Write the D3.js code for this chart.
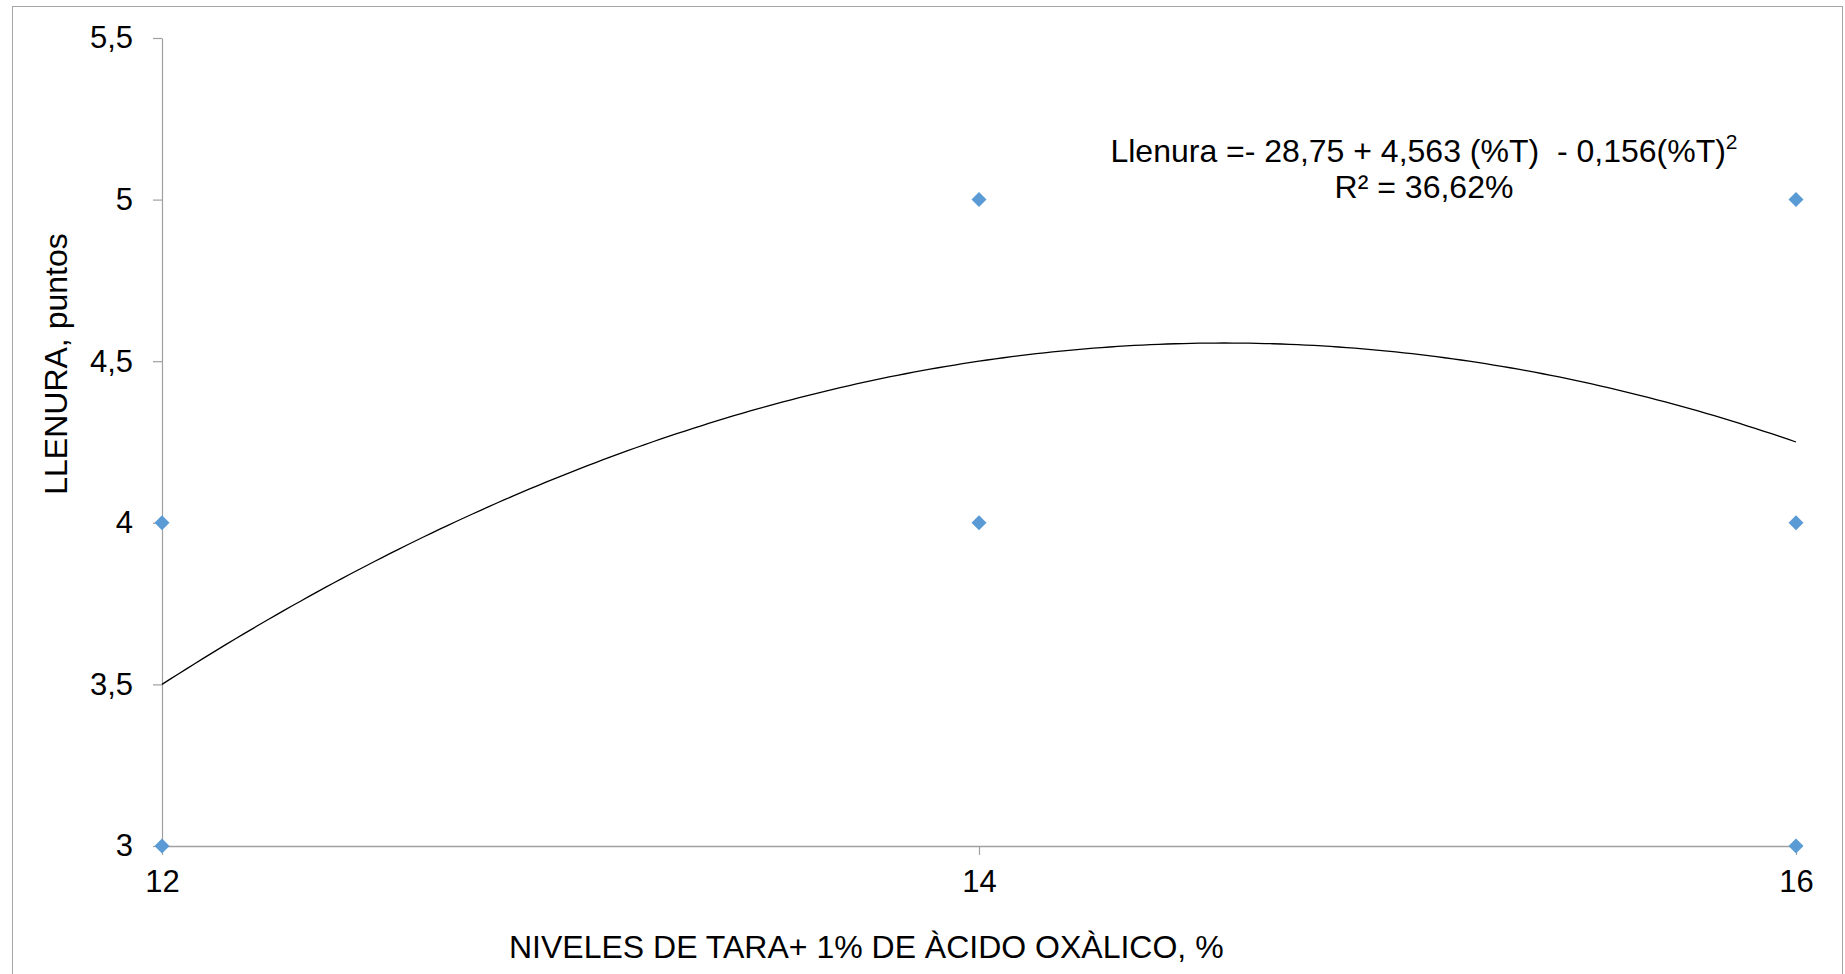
<!DOCTYPE html>
<html>
<head>
<meta charset="utf-8">
<script src="https://cdn.jsdelivr.net/npm/d3@7"></script>
<style>
  html, body { margin: 0; padding: 0; background: #fff; }
  svg { display: block; font-family: "Liberation Sans", Arial, sans-serif; }
  text { white-space: pre; }
</style>
</head>
<body>
<svg id="chart" width="1845" height="974"></svg>
<script>
// Observations: tara level (%) and fullness score (points)
const taraLevels = [12, 12, 14, 14, 16, 16, 16];
const llenuraScores = [3, 4, 4, 5, 3, 4, 5];

// Quadratic trend: Llenura = c0 + c1*T + c2*T^2
const trendCoefficients = [-28.75, 4.5625, -0.15625];

const xTicks = [12, 14, 16];
const yTicks = [3, 3.5, 4, 4.5, 5, 5.5];

const xTitle = "NIVELES DE TARA+ 1% DE ÀCIDO OXÀLICO, %";
const yTitle = "LLENURA, puntos";
const equationMain = "Llenura =- 28,75 + 4,563 (%T)  - 0,156(%T)";
const equationSup = "2";
const r2Label = "R² = 36,62%";

const svg = d3.select("#chart");
const axisColor = "#a0a0a0";
const markerColor = "#5B9BD5";

// Outer chart frame
svg.append("rect")
  .attr("x", 12.5).attr("y", 6.5)
  .attr("width", 1830).attr("height", 1000)
  .attr("fill", "none").attr("stroke", "#a6a6a6").attr("stroke-width", 1);

const x = d3.scaleLinear().domain([12, 16]).range([162, 1796]);
const y = d3.scaleLinear().domain([3, 5.5]).range([846, 38]);

const fmt = d => String(d).replace(".", ",");

// Y axis
const gy = svg.append("g")
  .attr("transform", `translate(${x(12)},0)`)
  .call(d3.axisLeft(y).tickValues(yTicks).tickFormat(fmt).tickSize(9).tickPadding(20).tickSizeOuter(0));
gy.select(".domain").attr("stroke", axisColor).attr("stroke-width", 1.2);
gy.selectAll(".tick line").attr("stroke", axisColor).attr("stroke-width", 1.2);
gy.selectAll(".tick text").attr("font-size", 31).attr("fill", "#000")
  .attr("font-family", "Liberation Sans, Arial, sans-serif");

// X axis
const gx = svg.append("g")
  .attr("transform", `translate(0,${y(3)})`)
  .call(d3.axisBottom(x).tickValues(xTicks).tickFormat(d => d).tickSize(9).tickPadding(15).tickSizeOuter(0));
gx.select(".domain").attr("stroke", axisColor).attr("stroke-width", 1.5);
gx.selectAll(".tick line").attr("stroke", axisColor).attr("stroke-width", 1.2);
gx.selectAll(".tick text").attr("font-size", 31).attr("fill", "#000")
  .attr("font-family", "Liberation Sans, Arial, sans-serif");

// Trend curve
const trend = t => trendCoefficients[0] + trendCoefficients[1] * t + trendCoefficients[2] * t * t;
const curveXs = d3.range(0, 201).map(i => 12 + i * (16 - 12) / 200);
svg.append("path")
  .datum(curveXs)
  .attr("fill", "none")
  .attr("stroke", "#000")
  .attr("stroke-width", 1.3)
  .attr("d", d3.line().x(t => x(t)).y(t => y(trend(t))));

// Observation markers (diamonds)
const diamond = d3.symbol().type(d3.symbolSquare).size(113);
svg.append("g").selectAll("path")
  .data(d3.zip(taraLevels, llenuraScores))
  .join("path")
  .attr("d", diamond)
  .attr("transform", d => `translate(${x(d[0])},${y(d[1])}) rotate(45)`)
  .attr("fill", markerColor);

// Equation label
const eq = svg.append("text")
  .attr("x", 1424).attr("y", 162)
  .attr("text-anchor", "middle")
  .attr("font-size", 32).attr("fill", "#000");
eq.append("tspan").text(equationMain);
eq.append("tspan").attr("font-size", 21).attr("dy", -13).text(equationSup);

svg.append("text")
  .attr("x", 1424).attr("y", 198)
  .attr("text-anchor", "middle")
  .attr("font-size", 32).attr("fill", "#000")
  .text(r2Label);

// Axis titles
svg.append("text")
  .attr("x", 509).attr("y", 958)
  .attr("font-size", 32).attr("fill", "#000")
  .text(xTitle);

svg.append("text")
  .attr("transform", "translate(67,364) rotate(-90)")
  .attr("text-anchor", "middle")
  .attr("font-size", 32).attr("fill", "#000")
  .text(yTitle);
</script>
</body>
</html>
